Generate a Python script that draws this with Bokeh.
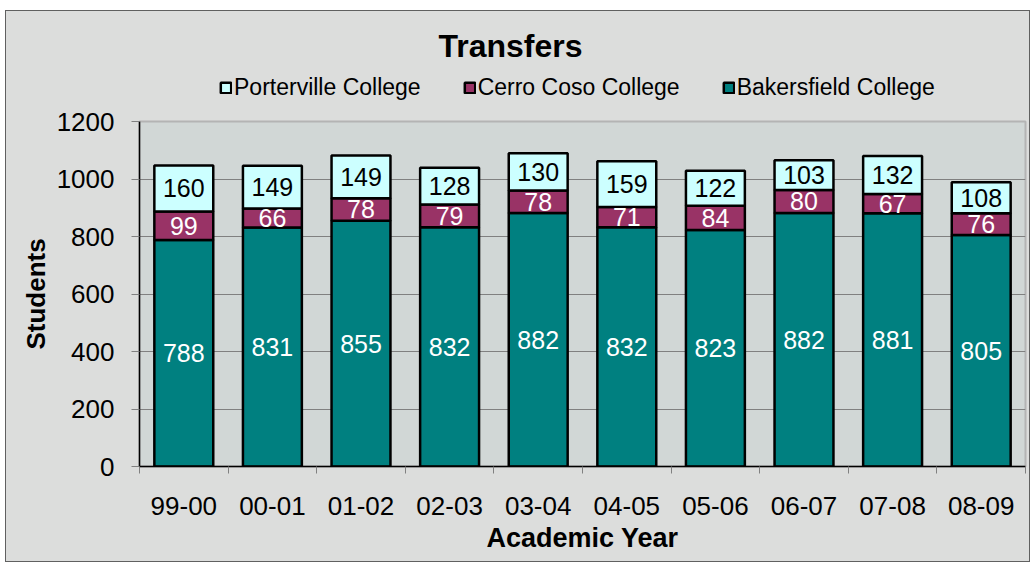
from bokeh.plotting import figure
from bokeh.layouts import column
from bokeh.models import (Range1d, FixedTicker, Legend, LegendItem, ColumnDataSource, Label)
from bokeh.core.properties import value
from bokeh.embed import file_html
from bokeh.resources import INLINE

years = ["99-00", "00-01", "01-02", "02-03", "03-04", "04-05", "05-06", "06-07", "07-08", "08-09"]
bakersfield = [788, 831, 855, 832, 882, 832, 823, 882, 881, 805]
cerro_coso = [99, 66, 78, 79, 78, 71, 84, 80, 67, 76]
porterville = [160, 149, 149, 128, 130, 159, 122, 103, 132, 108]
y_ticks = [0, 200, 400, 600, 800, 1000, 1200]

FONT = "Liberation Sans"
TEAL = "#008080"
MAROON = "#993366"
CYAN = "#CCFFFF"
CHART_BG = "#dcdddc"

n = len(years)
xs = [i + 0.5 for i in range(n)]
b_top = bakersfield
c_top = [b + c for b, c in zip(bakersfield, cerro_coso)]
p_top = [c + p for c, p in zip(c_top, porterville)]

src = ColumnDataSource(dict(
    x=xs, years=years,
    b0=[0] * n, b1=b_top, c0=b_top, c1=c_top, p0=c_top, p1=p_top,
    b_lab=[str(v) for v in bakersfield], c_lab=[str(v) for v in cerro_coso],
    p_lab=[str(v) for v in porterville],
    b_mid=[v / 2 for v in bakersfield],
    c_mid=[b + c / 2 for b, c in zip(bakersfield, cerro_coso)],
    p_mid=[c + p / 2 for c, p in zip(c_top, porterville)],
))

W = 1023
HH = 90
HM = 460
BL, BR = 133, 4
FW = W - BL - BR  # frame width shared by both figures (column aligns borders)

# ---------- header: title + legend ----------
head = figure(width=W, height=HH, output_backend="svg", toolbar_location=None,
              x_range=Range1d(0, FW), y_range=Range1d(HH, 0),
              x_axis_location=None, y_axis_location=None,
              min_border_left=BL, min_border_right=BR,
              min_border_top=0, min_border_bottom=0)
head.grid.visible = False
head.outline_line_color = None
head.background_fill_color = CHART_BG
head.border_fill_color = CHART_BG

head.add_layout(Label(x=371, y=34, text="Transfers", text_font=FONT, text_font_size="32px",
                      text_font_style="bold", text_align="center", text_baseline="middle",
                      text_color="black"))

hp = head.vbar(x=xs, top=porterville, width=0.5, fill_color=CYAN, line_color="black",
               line_width=2.5, visible=False)
hc = head.vbar(x=xs, top=cerro_coso, width=0.5, fill_color=MAROON, line_color="black",
               line_width=2.5, visible=False)
hb = head.vbar(x=xs, top=bakersfield, width=0.5, fill_color=TEAL, line_color="black",
               line_width=2.5, visible=False)

legend = Legend(items=[
    LegendItem(label="Porterville College", renderers=[hp]),
    LegendItem(label="Cerro Coso College", renderers=[hc]),
    LegendItem(label="Bakersfield College", renderers=[hb]),
], orientation="horizontal", location=(80, 0))
legend.background_fill_alpha = 0
legend.border_line_color = None
legend.label_text_font = FONT
legend.label_text_font_size = "23px"
legend.label_text_color = "black"
legend.glyph_width = 13
legend.glyph_height = 13
legend.label_height = 24
legend.label_standoff = 2
legend.spacing = 42
legend.padding = 0
legend.margin = 0
head.add_layout(legend)

# ---------- main chart ----------
p = figure(width=W, height=HM, output_backend="svg", toolbar_location=None,
           x_range=Range1d(0, n), y_range=Range1d(0, 1200),
           min_border_left=BL, min_border_right=BR, min_border_top=20, min_border_bottom=95)

p.border_fill_color = CHART_BG
p.background_fill_color = "#d1d7d6"
p.outline_line_color = "#b4b4b4"
p.outline_line_width = 2

bw = 0.665
rb = p.vbar(x="x", bottom="b0", top="b1", width=bw, source=src, fill_color=TEAL,
            line_color="black", line_width=2.5)
rc = p.vbar(x="x", bottom="c0", top="c1", width=bw, source=src, fill_color=MAROON,
            line_color="black", line_width=2.5)
rp = p.vbar(x="x", bottom="p0", top="p1", width=bw, source=src, fill_color=CYAN,
            line_color="black", line_width=2.5)

for col_y, col_t, color in (("b_mid", "b_lab", "white"), ("c_mid", "c_lab", "white"),
                            ("p_mid", "p_lab", "black")):
    p.text(x="x", y=col_y, text=col_t, source=src, text_align="center",
           text_baseline="middle", text_font=value(FONT), text_font_size="25px",
           text_color=color)

p.xgrid.visible = False
p.ygrid.ticker = FixedTicker(ticks=y_ticks)
p.ygrid.grid_line_color = "#808080"
p.ygrid.grid_line_width = 1

ya = p.yaxis[0]
ya.ticker = FixedTicker(ticks=y_ticks)
ya.axis_line_color = "black"
ya.axis_line_width = 1.5
ya.major_tick_line_color = "#808080"
ya.major_tick_in = 0
ya.major_tick_out = 8
ya.minor_tick_line_color = None
ya.major_label_text_font = FONT
ya.major_label_text_font_size = "26px"
ya.major_label_text_color = "black"
ya.major_label_standoff = 17
ya.axis_label = "Students"
ya.axis_label_text_font = FONT
ya.axis_label_text_font_size = "26px"
ya.axis_label_text_font_style = "bold"
ya.axis_label_text_color = "black"
ya.axis_label_standoff = 3

xa = p.xaxis[0]
xa.ticker = FixedTicker(ticks=xs, minor_ticks=list(range(n + 1)))
xa.major_label_overrides = {x: y for x, y in zip(xs, years)}
xa.axis_line_color = "black"
xa.axis_line_width = 1.5
xa.major_tick_line_color = None
xa.major_tick_in = 0
xa.major_tick_out = 0
xa.minor_tick_line_color = "#808080"
xa.minor_tick_in = 0
xa.minor_tick_out = 7
xa.major_label_text_font = FONT
xa.major_label_text_font_size = "26px"
xa.major_label_text_color = "black"
xa.major_label_standoff = 23
xa.axis_label = "Academic Year"
xa.axis_label_text_font = FONT
xa.axis_label_text_font_size = "27px"
xa.axis_label_text_font_style = "bold"
xa.axis_label_text_color = "black"
xa.axis_label_standoff = 5

layout = column(head, p, spacing=0)
layout.styles = {"border": "1px solid #606060", "margin-left": "5px", "margin-top": "10px",
                 "background-color": CHART_BG}

open("out.html", "w").write(file_html(layout, INLINE))
